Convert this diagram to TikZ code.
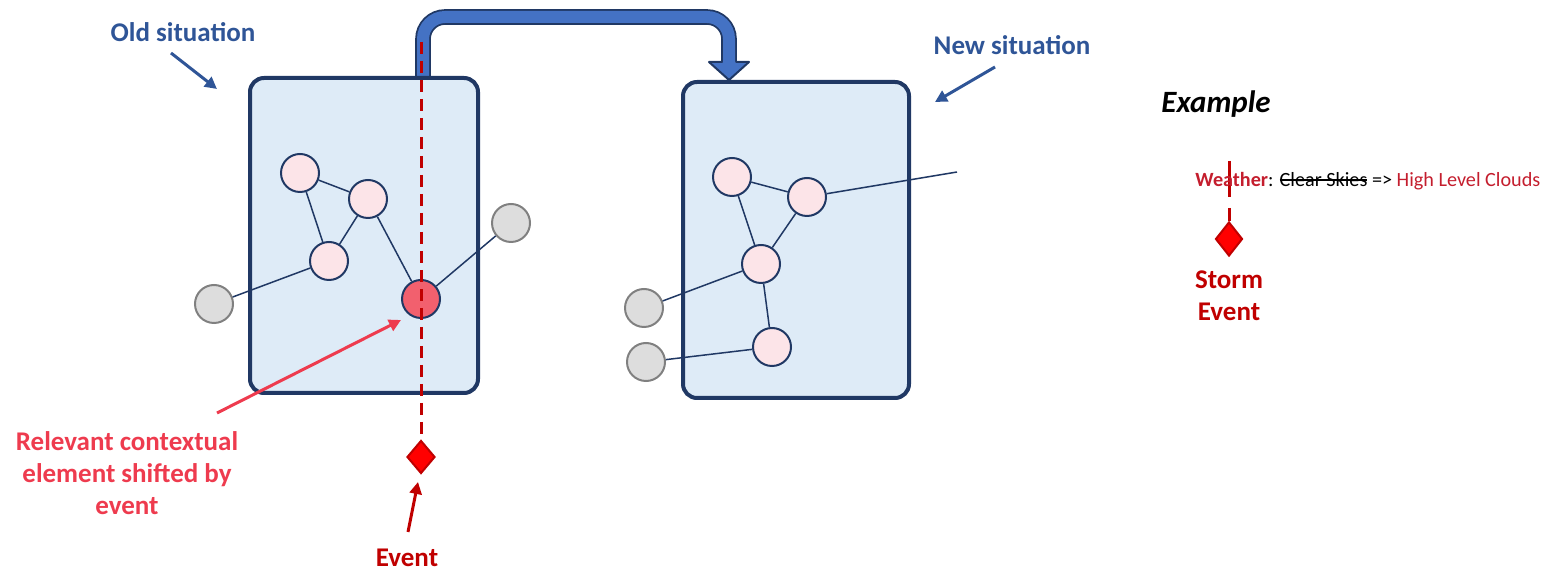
\documentclass[tikz,border=0pt]{standalone}
\usepackage{fontspec}
\setmainfont{Carlito}
\usetikzlibrary{arrows.meta,shapes.geometric}
\newcommand\mystrike[1]{\setbox0=\hbox{#1}\rlap{\rule[0.28em]{\wd0}{0.08em}}\box0\relax}
\definecolor{navy}{HTML}{203864}
\definecolor{boxfill}{HTML}{DEEBF7}
\definecolor{pinkfill}{HTML}{FCE4E8}
\definecolor{rednode}{HTML}{F2606E}
\definecolor{arrowblue}{HTML}{4472C4}
\definecolor{lblblue}{HTML}{2F5597}
\definecolor{darkred}{HTML}{C00000}
\definecolor{pinkred}{HTML}{EE3B4E}
\definecolor{grayfill}{HTML}{DDDDDD}
\definecolor{grayline}{HTML}{808080}
\definecolor{exred}{HTML}{C41E2E}
\begin{document}
\begin{tikzpicture}[x=0.5pt,y=-0.5pt,
  sitbox/.style={draw=navy,line width=2pt,fill=boxfill,rounded corners=7pt},
  ctx/.style={circle,draw=navy,line width=1pt,fill=pinkfill,minimum size=19pt,inner sep=0pt},
  hot/.style={ctx,fill=rednode},
  ext/.style={circle,draw=grayline,line width=1pt,fill=grayfill,minimum size=19pt,inner sep=0pt},
  edge/.style={draw=navy,line width=0.75pt},
  lbl/.style={font=\fontsize{13.5}{16}\selectfont\bfseries,inner sep=0pt,align=center},
  evline/.style={draw=darkred,line width=1.5pt,dash pattern=on 6pt off 3.5pt},
  evdiamond/.style={diamond,draw=darkred,line width=1pt,fill=red,minimum width=14pt,minimum height=16.5pt,inner sep=0pt},
  ptr/.style={line width=1.5pt,-{Triangle[length=6pt,width=6pt]}}
]
\useasboundingbox (0,0) rectangle (1562,581);

% big U arrow
\coordinate (ua) at (423,80);
\coordinate (ub) at (423,17);
\coordinate (uc) at (729,17);
\coordinate (ud) at (729,66);
\draw[draw=navy,line width=0.9pt,double=arrowblue,double distance=6pt,rounded corners=11pt]
  (ua) -- (ub) -- (uc) -- (ud);
\fill[arrowblue] (709,62) -- (749,62) -- (729,80) -- cycle;
\draw[navy,line width=1pt,line join=round] (722.5,62) -- (709,62) -- (729,80) -- (749,62) -- (735.5,62);

% boxes
\node[sitbox,minimum width=114pt,minimum height=157.5pt,inner sep=0pt] (oldbox) at (364,235.5) {};
\node[sitbox,minimum width=113pt,minimum height=158pt,inner sep=0pt] (newbox) at (796,240) {};

% old graph
\node[ctx] (a) at (300,173) {};
\node[ctx] (b) at (368,199) {};
\node[ctx] (c) at (329,261) {};
\node[hot] (d) at (421,299) {};
\node[ext] (gl) at (214,304) {};
\node[ext] (gr) at (511,223) {};
\draw[edge] (a) -- (b);
\draw[edge] (a) -- (c);
\draw[edge] (b) -- (c);
\draw[edge] (b) -- (d);
\draw[edge] (c) -- (gl);
\draw[edge] (d) -- (gr);

% new graph
\node[ctx] (e) at (732,177) {};
\node[ctx] (f) at (807,197) {};
\node[ctx] (g) at (761,264) {};
\node[ctx] (h) at (772,347) {};
\node[ext] (g1) at (644,308) {};
\node[ext] (g2) at (646,362) {};
\coordinate (fend) at (957,172);
\draw[edge] (e) -- (f);
\draw[edge] (e) -- (g);
\draw[edge] (f) -- (g);
\draw[edge] (g) -- (h);
\draw[edge] (g) -- (g1);
\draw[edge] (h) -- (g2);
\draw[edge] (f) -- (fend);

% event line and diamond
\node[evdiamond] (ev) at (421,457) {};
\coordinate (evtop) at (421,42);
\draw[evline] (evtop) -- (ev.north);

% labels
\node[lbl,text=lblblue] (oldlbl) at (183,32) {Old situation};
\coordinate (oldtip) at (217,89);
\coordinate (oldtail) at (171,53);
\draw[ptr,draw=lblblue,fill=lblblue] (oldtail) -- (oldtip);

\node[lbl,text=lblblue] (newlbl) at (1012,45) {New situation};
\coordinate (newtail) at (995,67);
\coordinate (newtip) at (935,102);
\draw[ptr,draw=lblblue,fill=lblblue] (newtail) -- (newtip);

\node[lbl,text=pinkred] (rel) at (127,473) {Relevant contextual\\element shifted by\\event};
\coordinate (reltail) at (217,413);
\coordinate (reltip) at (401,320);
\draw[ptr,draw=pinkred,fill=pinkred] (reltail) -- (reltip);

\node[lbl,text=darkred] (evlbl) at (407,558) {Event};
\coordinate (evtail) at (408,532);
\coordinate (evtip) at (418,482);
\draw[ptr,draw=darkred,fill=darkred] (evtail) -- (evtip);

% example
\node[font=\fontsize{15.5}{18}\selectfont\bfseries\itshape,inner sep=0pt] (exlbl) at (1216,104) {Example};
\coordinate (s1) at (1229,161);
\coordinate (s2) at (1229,197);
\coordinate (s3) at (1229,208);
\draw[draw=darkred,line width=1.5pt] (s1) -- (s2);
\node[evdiamond,minimum width=13.5pt,minimum height=17pt] (sev) at (1229,239) {};
\draw[draw=darkred,line width=1.5pt] (s3) -- (sev.north);
\node[anchor=west,inner sep=0pt,font=\fontsize{10.1}{12}\selectfont] (weather) at (1195,181)
  {\textcolor{exred}{\bfseries Weather}: \mystrike{Clear Skies} => \textcolor{exred}{High Level Clouds}};
\node[lbl,text=darkred] (storm) at (1229,296) {Storm\\Event};
\end{tikzpicture}
\end{document}
